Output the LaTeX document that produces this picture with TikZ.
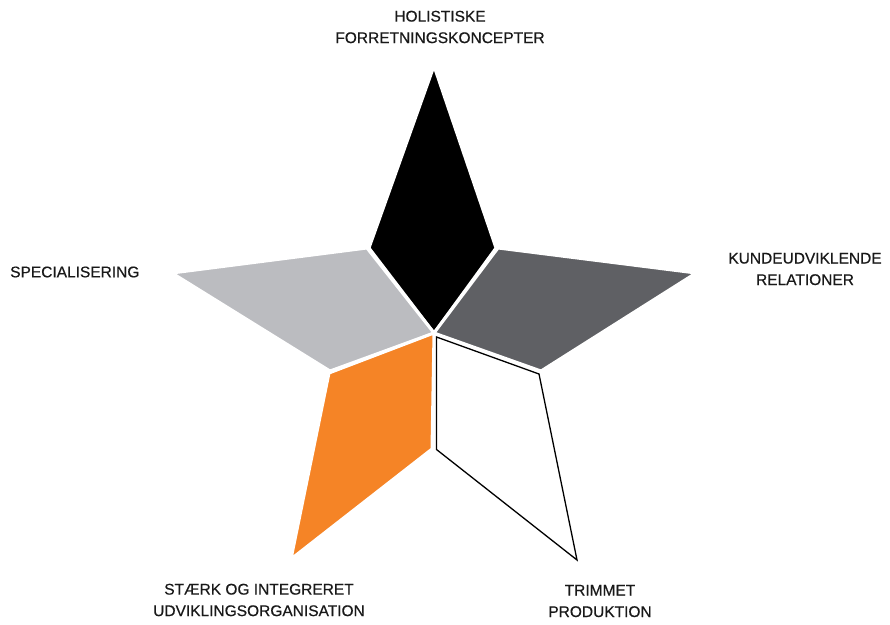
\documentclass[tikz,border=0pt]{standalone}
\usepackage{fontspec}
\setmainfont[FakeBold=0.5]{Liberation Sans}
\definecolor{dgray}{HTML}{5F6064}
\definecolor{lgray}{HTML}{BBBCC0}
\definecolor{orng}{HTML}{F58426}
\begin{document}
\begin{tikzpicture}[x=1pt,y=-1pt,
  piece/.style={draw=white,line width=3pt,line join=miter},
  lbl/.style={font=\fontsize{15.5}{21.5}\selectfont,align=center,inner sep=0pt,text=black!90}]
\useasboundingbox (0,0) rectangle (890,624);
\coordinate (C) at (434,333);
% black kite
\filldraw[piece,fill=black] (434,66) -- (496,248) -- (C) -- (369,248) -- cycle;
% dark gray
\filldraw[piece,fill=dgray] (C) -- (498,248) -- (696,273) -- (541,371) -- cycle;
% light gray
\filldraw[piece,fill=lgray] (C) -- (367,248) -- (172,273) -- (330,371) -- cycle;
% orange
\filldraw[piece,fill=orng] (C) -- (329,373) -- (291,559) -- (432,449) -- cycle;
% white outlined
\draw[black,line width=1.3pt,line join=miter] (436.5,337) -- (539,374) -- (577,560) -- (436.5,449.5) -- cycle;
% labels
\node[lbl] (t1) at (440,27) {HOLISTISKE\\FORRETNINGSKONCEPTER};
\node[lbl] (t2) at (805,269) {KUNDEUDVIKLENDE\\RELATIONER};
\node[lbl,anchor=west] (t3) at (10,272) {SPECIALISERING};
\node[lbl] (t4) at (259,600) {STÆRK OG INTEGRERET\\UDVIKLINGSORGANISATION};
\node[lbl] (t5) at (600,601) {TRIMMET\\PRODUKTION};
\end{tikzpicture}
\end{document}
